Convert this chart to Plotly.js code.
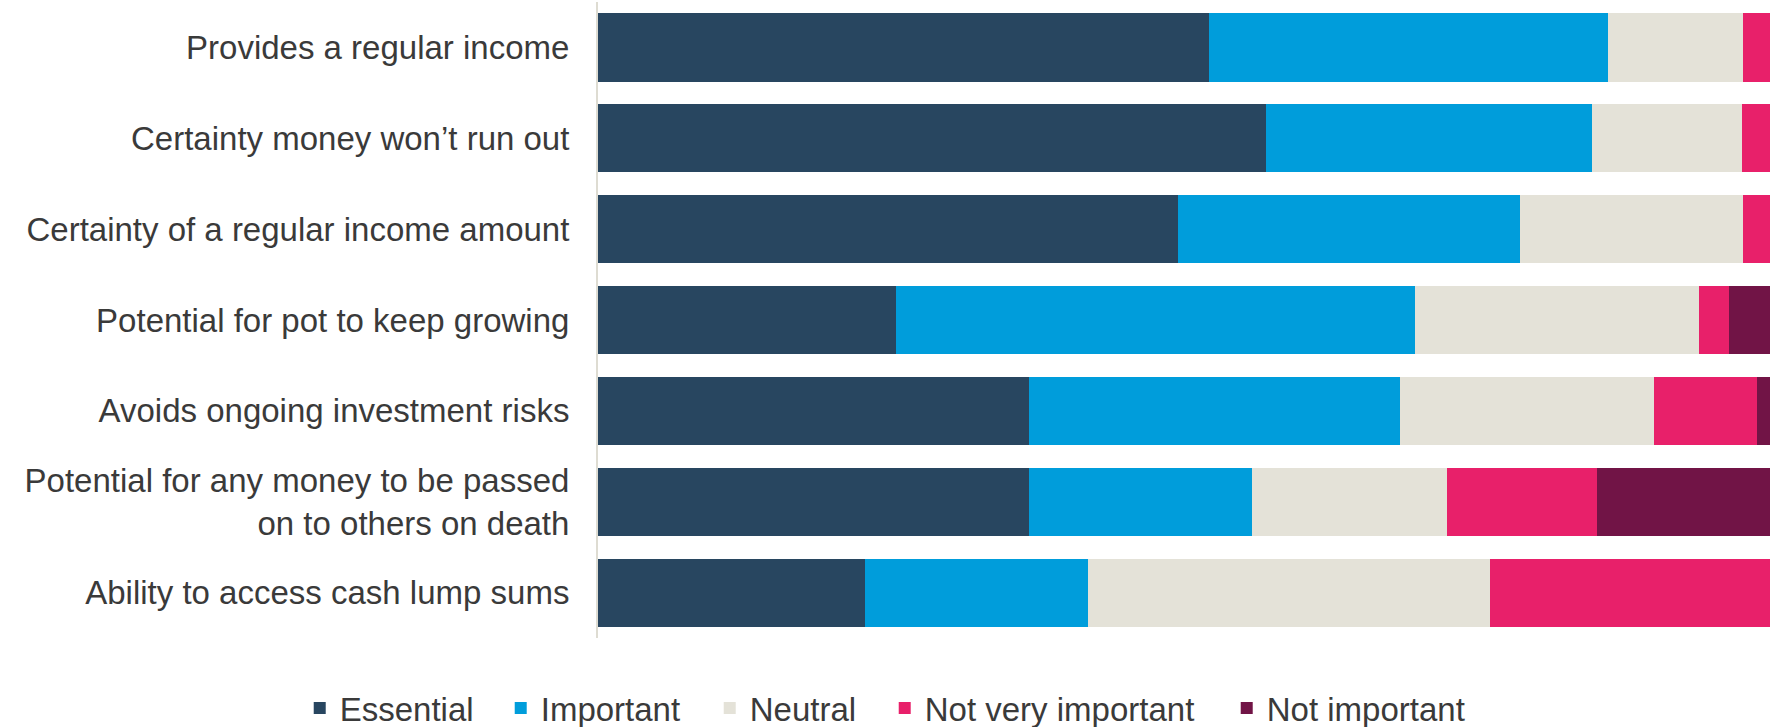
<!DOCTYPE html>
<html>
<head>
<meta charset="utf-8">
<script src="https://cdn.plot.ly/plotly-3.0.1.min.js"></script>
<style>
  html, body { margin: 0; padding: 0; background: #ffffff; }
  #chart { width: 1782px; height: 727px; }
</style>
</head>
<body>
<div id="chart"></div>
<script>
// Categories (top to bottom)
const categories = [
  "Provides a regular income",
  "Certainty money won’t run out",
  "Certainty of a regular income amount",
  "Potential for pot to keep growing",
  "Avoids ongoing investment risks",
  "Potential for any money to be passed<br>on to others on death",
  "Ability to access cash lump sums"
];

// Series values (% of respondents)
const essential        = [52.1, 57.0, 49.5, 25.4, 36.8, 36.8, 22.8];
const important        = [34.1, 27.8, 29.2, 44.3, 31.6, 19.0, 19.0];
const neutral          = [11.5, 12.8, 19.0, 24.2, 21.7, 16.6, 34.3];
const notVeryImportant = [2.3, 2.4, 2.3, 2.6, 8.8, 12.8, 23.9];
const notImportant     = [0, 0, 0, 3.5, 1.1, 14.9, 0];

const seriesNames  = ["Essential", "Important", "Neutral", "Not very important", "Not important"];
const seriesValues = [essential, important, neutral, notVeryImportant, notImportant];
const seriesColors = ["#284660", "#009ddb", "#e4e2d8", "#e8206a", "#711446"];
const legendWidths = [156, 164, 130, 297, null];

const traces = seriesNames.map((name, i) => {
  const t = {
    type: "bar",
    orientation: "h",
    name: name,
    y: categories,
    x: seriesValues[i],
    marker: { color: seriesColors[i], line: { width: 0 } },
    hoverinfo: "name+x"
  };
  if (legendWidths[i]) t.legendwidth = legendWidths[i];
  return t;
});

const layout = {
  width: 1782,
  height: 727,
  barmode: "stack",
  bargap: 0.25,
  margin: { l: 598, r: 12, t: 2, b: 89, pad: 0, autoexpand: false },
  paper_bgcolor: "#ffffff",
  plot_bgcolor: "#ffffff",
  font: { family: "Liberation Sans, Arial, sans-serif", size: 33, color: "#3a3a3a" },
  xaxis: {
    range: [0, 100],
    showgrid: false,
    zeroline: false,
    showticklabels: false,
    showline: false,
    ticks: ""
  },
  yaxis: {
    autorange: "reversed",
    showgrid: false,
    zeroline: false,
    showline: true,
    linecolor: "#dedcd2",
    linewidth: 2,
    ticks: "outside",
    ticklen: 20,
    tickcolor: "rgba(0,0,0,0)",
    tickfont: { family: "Liberation Sans, Arial, sans-serif", size: 33, color: "#3a3a3a" }
  },
  showlegend: true,
  legend: {
    orientation: "h",
    x: -0.2545,
    xanchor: "left",
    y: -0.11,
    yanchor: "middle",
    font: { family: "Liberation Sans, Arial, sans-serif", size: 33, color: "#3a3a3a" },
    traceorder: "normal",
    itemwidth: 30,
    bgcolor: "rgba(0,0,0,0)"
  }
};

Plotly.newPlot("chart", traces, layout, { displayModeBar: false, staticPlot: true });
</script>
</body>
</html>
